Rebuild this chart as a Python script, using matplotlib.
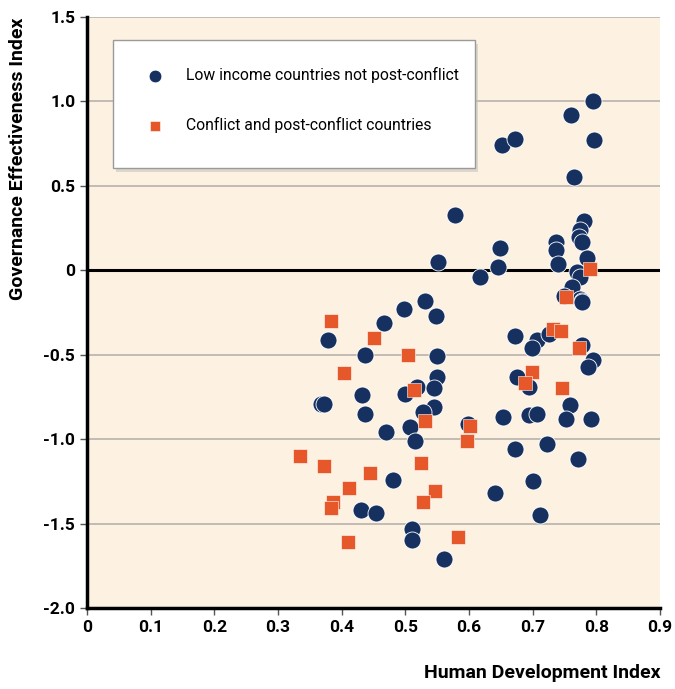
import matplotlib
matplotlib.use("Agg")
import matplotlib.pyplot as plt
from matplotlib import font_manager
from matplotlib.patches import Rectangle

# Low income countries not post-conflict (HDI, governance effectiveness)
low_hdi = [0.578, 0.552, 0.618, 0.531, 0.498, 0.548, 0.466, 0.379, 0.436, 0.550,
           0.549, 0.519, 0.499, 0.545, 0.432, 0.368, 0.373, 0.545, 0.528, 0.436,
           0.507, 0.469, 0.515, 0.599, 0.481, 0.430, 0.454, 0.511, 0.511, 0.560,
           0.794, 0.760, 0.652, 0.673, 0.797, 0.765, 0.781, 0.774, 0.773, 0.777,
           0.736, 0.736, 0.649, 0.785, 0.645, 0.740, 0.770, 0.774, 0.762, 0.775,
           0.778, 0.749, 0.777, 0.673, 0.707, 0.726, 0.699, 0.778, 0.794, 0.787,
           0.676, 0.694, 0.759, 0.653, 0.695, 0.707, 0.753, 0.791, 0.672, 0.723,
           0.771, 0.701, 0.641, 0.711]
low_gov = [0.33, 0.05, -0.04, -0.18, -0.23, -0.27, -0.31, -0.41, -0.50, -0.51,
           -0.63, -0.69, -0.73, -0.70, -0.74, -0.79, -0.79, -0.81, -0.84, -0.85,
           -0.93, -0.96, -1.01, -0.91, -1.24, -1.42, -1.44, -1.53, -1.60, -1.71,
           1.00, 0.92, 0.74, 0.78, 0.77, 0.55, 0.29, 0.24, 0.20, 0.17,
           0.17, 0.12, 0.13, 0.07, 0.02, 0.04, -0.01, -0.04, -0.10, -0.17,
           -0.18, -0.15, -0.19, -0.39, -0.41, -0.38, -0.46, -0.44, -0.53, -0.57,
           -0.63, -0.69, -0.80, -0.87, -0.86, -0.85, -0.88, -0.88, -1.06, -1.03,
           -1.12, -1.25, -1.32, -1.45]

# Conflict and post-conflict countries
conf_hdi = [0.383, 0.451, 0.504, 0.404, 0.513, 0.531, 0.601, 0.597, 0.334, 0.372,
            0.525, 0.444, 0.411, 0.547, 0.386, 0.383, 0.528, 0.410, 0.582, 0.790,
            0.753, 0.732, 0.745, 0.773, 0.699, 0.688, 0.746]
conf_gov = [-0.30, -0.40, -0.50, -0.61, -0.71, -0.89, -0.92, -1.01, -1.10, -1.16,
            -1.14, -1.20, -1.29, -1.31, -1.37, -1.41, -1.37, -1.61, -1.58, 0.01,
            -0.16, -0.35, -0.36, -0.46, -0.60, -0.67, -0.70]

x_ticks = [0, 0.1, 0.2, 0.3, 0.4, 0.5, 0.6, 0.7, 0.8, 0.9]
x_labels = ["0", "0.1", "0.2", "0.3", "0.4", "0.5", "0.6", "0.7", "0.8", "0.9"]
y_ticks = [-2.0, -1.5, -1.0, -0.5, 0, 0.5, 1.0, 1.5]
y_labels = ["-2.0", "-1.5", "-1.0", "-0.5", "0", "0.5", "1.0", "1.5"]

# a narrow face is closest to the original; fall back to Roboto
names = {f.name for f in font_manager.fontManager.ttflist}
if "Liberation Sans Narrow" in names:
    fam, leg_size, tick_size = "Liberation Sans Narrow", 13.5, 14
else:
    fam, leg_size, tick_size = "Roboto", 11.3, 12.5
plt.rcParams['font.family'] = [fam, 'DejaVu Sans']

navy = "#16305f"
orange = "#e6572a"

fig = plt.figure(figsize=(6.75, 6.89), dpi=100)
ax = fig.add_axes([0.1289, 0.1176, 0.8489, 0.8577])
ax.set_facecolor("#fdf1e2")

for yv in y_ticks:
    if yv == 0:
        ax.axhline(0, color="black", lw=2.2, zorder=1)
    else:
        ax.axhline(yv, color="#b8b2ab", lw=1.2, zorder=1)

ax.scatter(low_hdi, low_gov, s=150, c=navy, edgecolors="white", linewidths=0.6,
           zorder=3, label="Low income countries not post-conflict")
ax.scatter(conf_hdi, conf_gov, s=90, c=orange, marker="s", edgecolors="white",
           linewidths=0.4, zorder=4, label="Conflict and post-conflict countries")

ax.set_xlim(0, 0.9)
ax.set_ylim(-2.0, 1.5)
ax.set_xticks(x_ticks)
ax.set_xticklabels(x_labels)
ax.set_yticks(y_ticks)
ax.set_yticklabels(y_labels)
ax.tick_params(axis="both", labelsize=tick_size, colors="#555555", length=5,
               width=1, labelcolor="black")
for lab in ax.get_xticklabels() + ax.get_yticklabels():
    lab.set_fontweight("bold")

for side in ["top", "right"]:
    ax.spines[side].set_visible(False)
for side in ["left", "bottom"]:
    ax.spines[side].set_linewidth(2.5)
    ax.spines[side].set_color("black")

ax.set_xlabel("Human Development Index", fontsize=14, fontweight="bold")
ax.xaxis.set_label_coords(1.0, -0.095)
ax.xaxis.label.set_ha("right")
ax.set_ylabel("Governance Effectiveness Index", fontsize=14, fontweight="bold")
ax.yaxis.set_label_coords(-0.105, 0.76)

# legend box drawn by hand (with a soft shadow), entries on top of it
bx, by, bw, bh = 0.0454, 0.7445, 0.632, 0.2165
ax.add_patch(Rectangle((bx + 0.005, by - 0.006), bw, bh, transform=ax.transAxes,
                       facecolor="#c9c4bd", edgecolor="none", alpha=0.6, zorder=5))
ax.add_patch(Rectangle((bx, by), bw, bh, transform=ax.transAxes,
                       facecolor="white", edgecolor="#9a9a9a", lw=1.0, zorder=6))

leg = ax.legend(loc="upper left", bbox_to_anchor=(0.1056, 0.9155), fontsize=leg_size,
                frameon=False, borderpad=0, labelspacing=2.15, handlelength=1.0,
                handletextpad=1.45, borderaxespad=0, markerscale=0.75)
leg.set_zorder(7)

fig.savefig("out.png", dpi=100, facecolor="white")
